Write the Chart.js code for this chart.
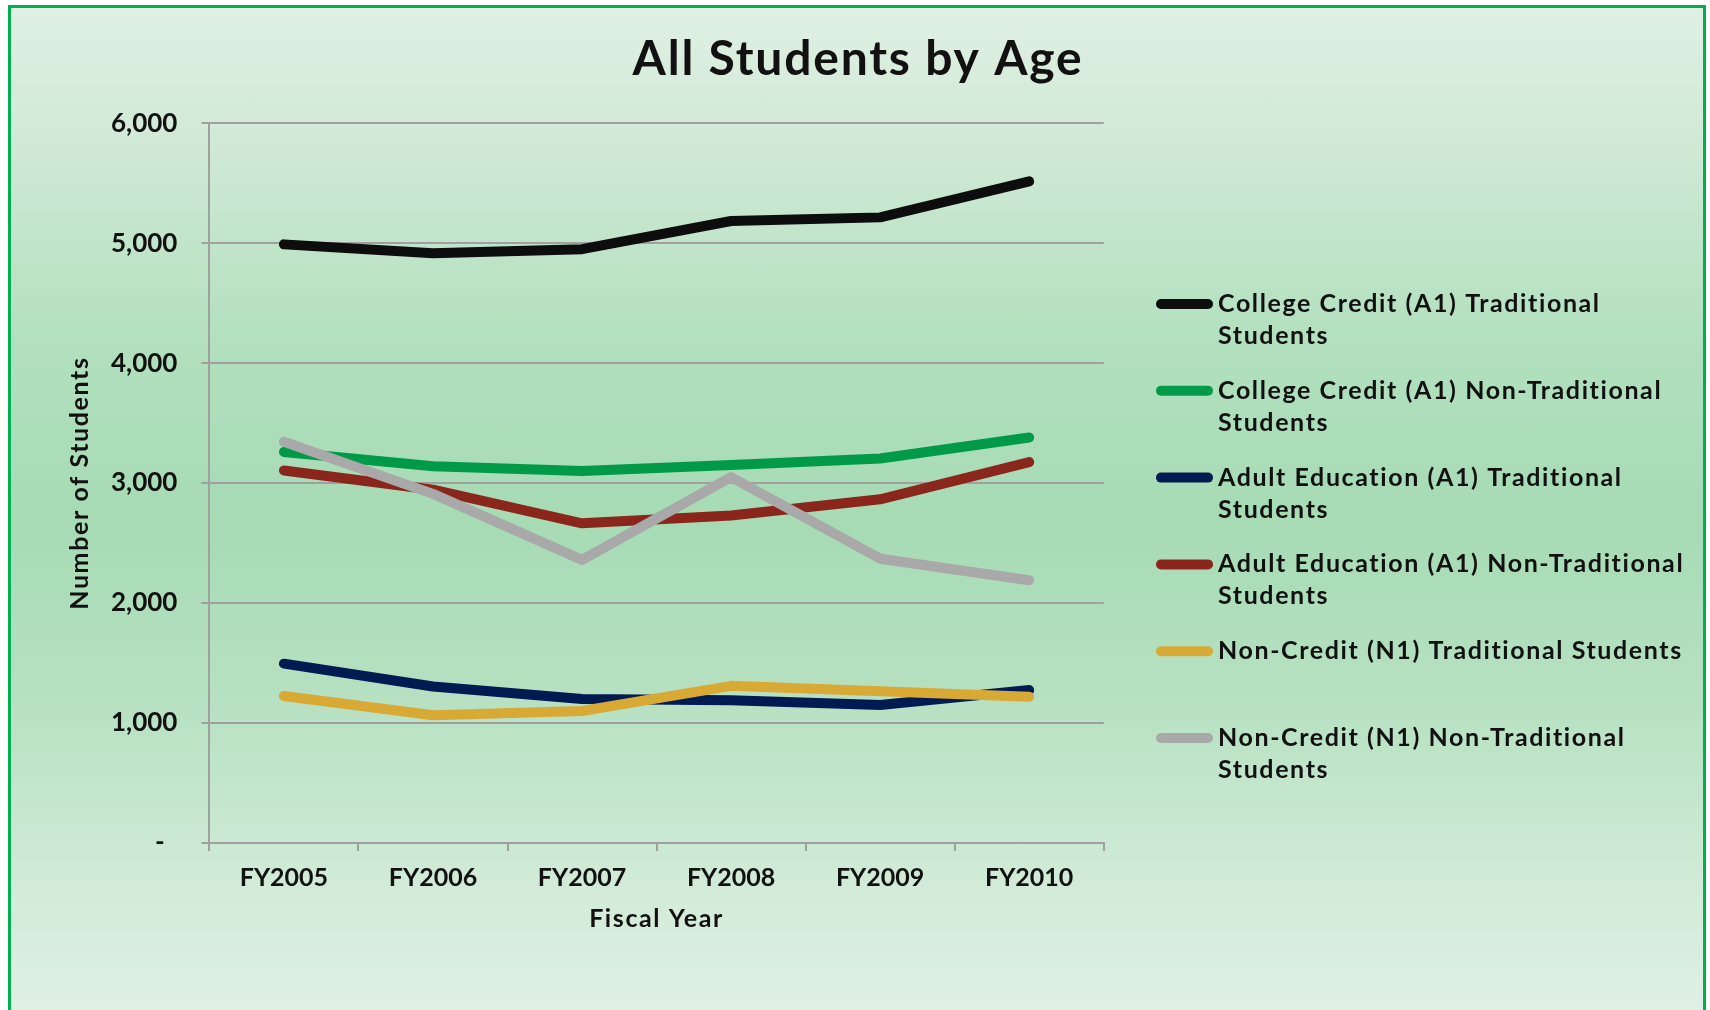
<!DOCTYPE html>
<html>
<head>
<meta charset="utf-8">
<script src="https://cdn.jsdelivr.net/npm/chart.js@4.4.0/dist/chart.umd.min.js"></script>
<style>
  html, body { margin: 0; padding: 0; width: 1710px; height: 1010px; overflow: hidden; background: #ffffff; }
  #frame {
    position: absolute; left: 8px; top: 5px; width: 1698px; height: 1030px;
    box-sizing: border-box; border: 3px solid #00b050;
    background: linear-gradient(to bottom, #e0f0e3 0%, #cfe9d5 14%, #b3e0bf 32%, #a6dbb4 50%, #b7e1c2 68%, #d2ebd8 86%, #e2f1e6 100%);
  }
  #wrap { position: absolute; left: 0; top: 0; width: 1710px; height: 1010px; }
</style>
</head>
<body>
<div id="frame"></div>
<div id="wrap"><canvas id="c" width="1710" height="1010"></canvas></div>
<script>
// ---- Data ----
const categories = ['FY2005', 'FY2006', 'FY2007', 'FY2008', 'FY2009', 'FY2010'];
const seriesNames = [
  'College Credit (A1) Traditional Students',
  'College Credit (A1) Non-Traditional Students',
  'Adult Education (A1) Traditional Students',
  'Adult Education (A1) Non-Traditional Students',
  'Non-Credit (N1) Traditional Students',
  'Non-Credit (N1) Non-Traditional Students'
];
const legendLines = [
  ['College Credit (A1) Traditional', 'Students'],
  ['College Credit (A1) Non-Traditional', 'Students'],
  ['Adult Education (A1) Traditional', 'Students'],
  ['Adult Education (A1) Non-Traditional', 'Students'],
  ['Non-Credit (N1) Traditional Students'],
  ['Non-Credit (N1) Non-Traditional', 'Students']
];
const collegeCreditTraditional    = [4990, 4915, 4950, 5185, 5215, 5515];
const collegeCreditNonTraditional = [3260, 3140, 3100, 3150, 3205, 3380];
const adultEdTraditional          = [1495, 1305, 1200, 1190, 1150, 1275];
const adultEdNonTraditional       = [3105, 2945, 2665, 2730, 2865, 3175];
const nonCreditTraditional        = [1225, 1065, 1100, 1310, 1265, 1220];
const nonCreditNonTraditional     = [3345, 2910, 2360, 3050, 2370, 2190];
const yTickLabels = ['-  ', '1,000', '2,000', '3,000', '4,000', '5,000', '6,000'];
const chartTitle = 'All Students by Age';
const xAxisTitle = 'Fiscal Year';
const yAxisTitle = 'Number of Students';

const seriesValues = [collegeCreditTraditional, collegeCreditNonTraditional, adultEdTraditional,
                      adultEdNonTraditional, nonCreditTraditional, nonCreditNonTraditional];
const seriesColors = ['#0d0d0d', '#009a48', '#001a52', '#8b261d', '#d8aa35', '#a9a9a9'];

const FONT = 'Lato';
const TEXT = '#111111';
const GRID = '#a0a0a0';

const overlayPlugin = {
  id: 'overlay',
  afterDraw(chart) {
    const ctx = chart.ctx;
    const area = chart.chartArea;
    ctx.save();
    ctx.fillStyle = TEXT;
    ctx.textBaseline = 'middle';
    ctx.textAlign = 'center';
    // title
    ctx.font = 'bold 48px ' + FONT;
    ctx.letterSpacing = '1.8px';
    ctx.fillText(chartTitle, 858, 60);
    // axis titles
    ctx.font = 'bold 25px ' + FONT;
    ctx.letterSpacing = '1.6px';
    ctx.fillText(xAxisTitle, (area.left + area.right) / 2, 919);
    ctx.save();
    ctx.translate(80, (area.top + area.bottom) / 2);
    ctx.rotate(-Math.PI / 2);
    ctx.fillText(yAxisTitle, 0, 0);
    ctx.restore();
    // legend
    ctx.textAlign = 'left';
    ctx.font = 'bold 25px ' + FONT;
    ctx.letterSpacing = '1.6px';
    chart.data.datasets.forEach((ds, i) => {
      const y = 304 + i * 86.8;
      ctx.strokeStyle = ds.borderColor;
      ctx.lineWidth = 10;
      ctx.lineCap = 'round';
      ctx.beginPath();
      ctx.moveTo(1161, y);
      ctx.lineTo(1208, y);
      ctx.stroke();
      ctx.fillStyle = TEXT;
      legendLines[i].forEach((t, k) => ctx.fillText(t, 1218, y + k * 32));
    });
    ctx.restore();
  }
};

const datasets = seriesNames.map((name, i) => ({
  label: name,
  data: seriesValues[i],
  borderColor: seriesColors[i],
  backgroundColor: seriesColors[i],
  borderWidth: 10,
  pointRadius: 0,
  pointHoverRadius: 0,
  tension: 0,
  borderCapStyle: 'round',
  borderJoinStyle: 'round',
  fill: false,
  order: seriesNames.length - i
}));

new Chart(document.getElementById('c'), {
  type: 'line',
  data: { labels: categories, datasets },
  options: {
    responsive: false,
    animation: false,
    events: [],
    layout: { padding: { left: 10, right: 606.3, top: 123.2, bottom: 76.6 } },
    plugins: {
      legend: { display: false },
      tooltip: { enabled: false },
      title: { display: false }
    },
    scales: {
      x: {
        offset: true,
        grid: { display: true, offset: true, drawOnChartArea: false, drawTicks: true, tickLength: 8, color: GRID, lineWidth: 2 },
        border: { display: true, color: GRID, width: 2 },
        ticks: { color: TEXT, font: { family: FONT, size: 25, weight: 'bold' }, padding: 12, maxRotation: 0 },
        title: { display: false },
        afterFit(s) { s.height = 90.4; }
      },
      y: {
        min: 0, max: 6000,
        ticks: {
          stepSize: 1000,
          color: TEXT,
          font: { family: FONT, size: 26, weight: 'bold' },
          padding: 24,
          callback: (v, i) => yTickLabels[i]
        },
        grid: { color: GRID, lineWidth: 2, tickLength: 8 },
        border: { display: true, color: GRID, width: 2 },
        title: { display: false },
        afterFit(s) { s.width = 199.4; }
      }
    }
  },
  plugins: [overlayPlugin]
});
</script>
</body>
</html>
